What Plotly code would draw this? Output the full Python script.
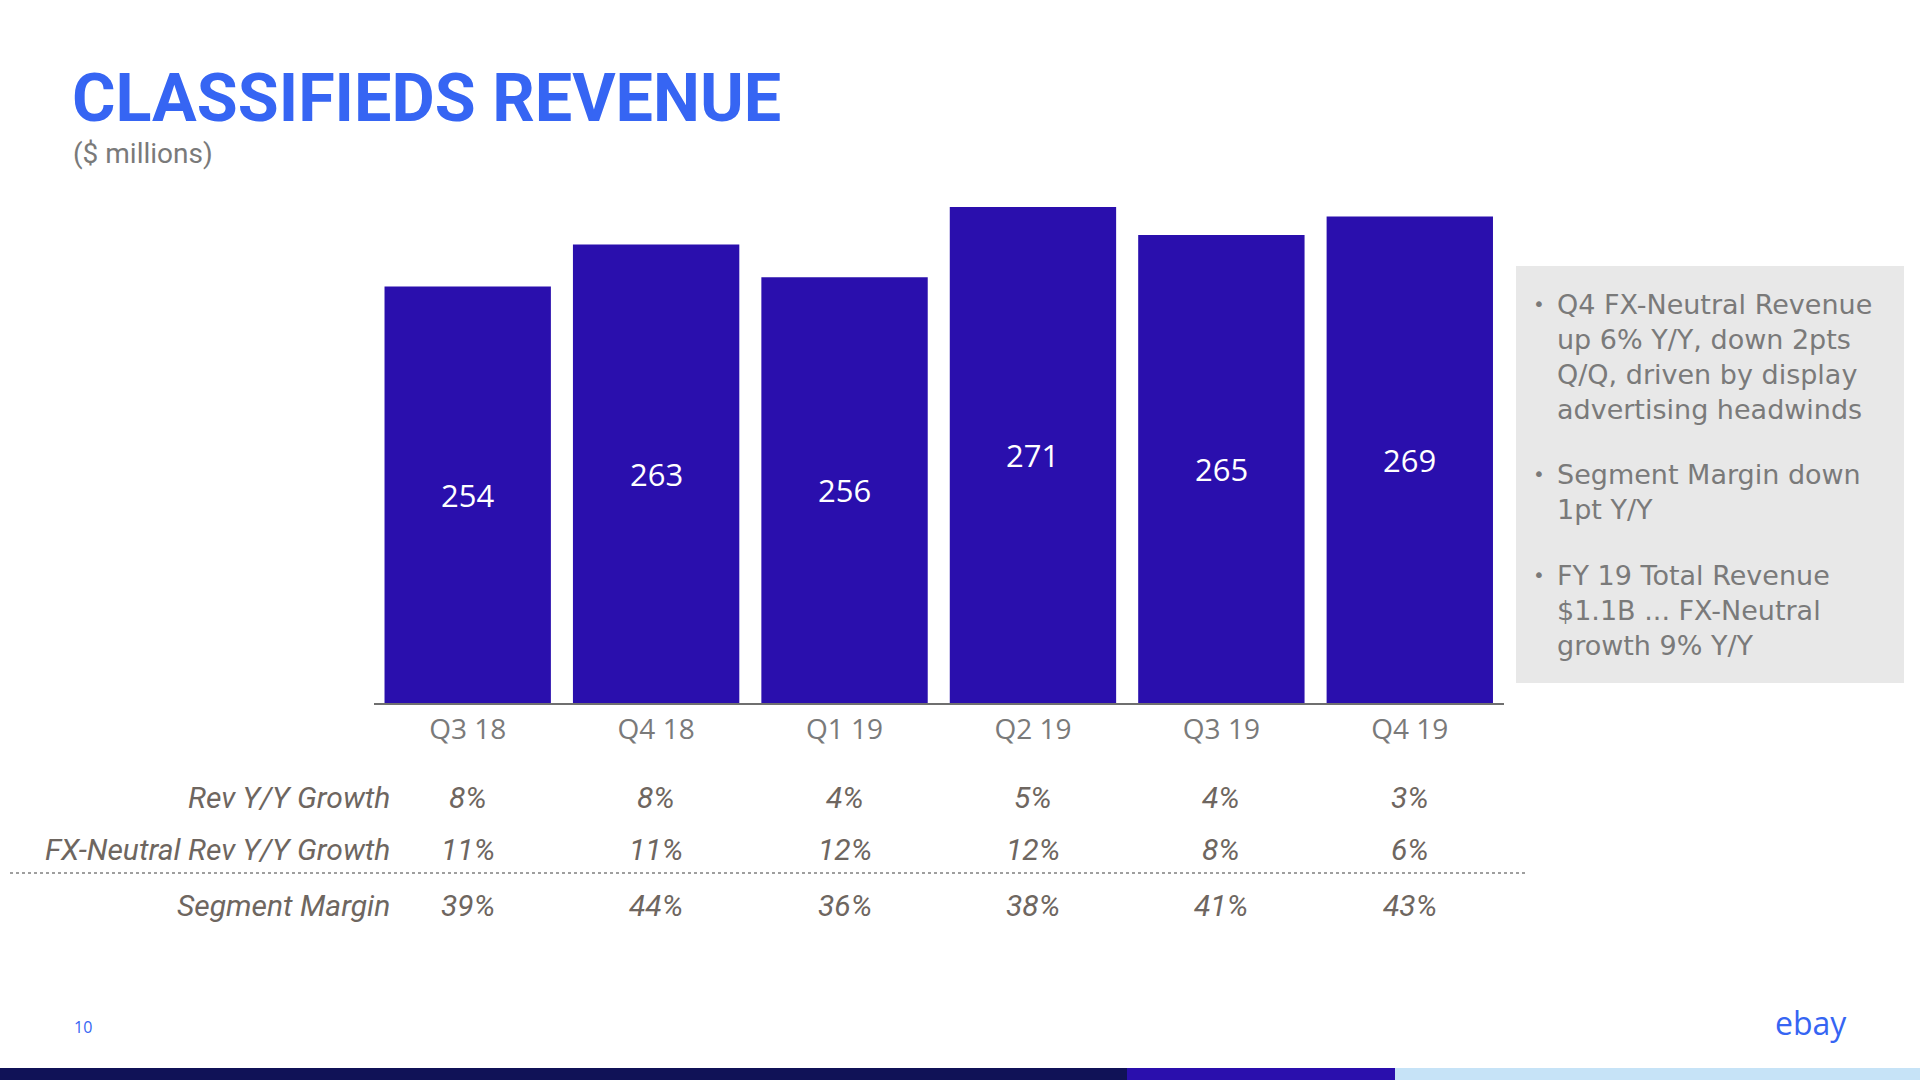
import plotly.graph_objects as go

# ---------------- data ----------------
quarters = ["Q3 18", "Q4 18", "Q1 19", "Q2 19", "Q3 19", "Q4 19"]
revenue = [254, 263, 256, 271, 265, 269]
rev_yy_growth = ["8%", "8%", "4%", "5%", "4%", "3%"]
fxn_rev_yy_growth = ["11%", "11%", "12%", "12%", "8%", "6%"]
segment_margin = ["39%", "44%", "36%", "38%", "41%", "43%"]
row_labels = ["Rev Y/Y Growth", "FX-Neutral Rev Y/Y Growth", "Segment Margin"]
bullets = [
    ["Q4 FX-Neutral Revenue", "up 6% Y/Y, down 2pts", "Q/Q, driven by display", "advertising headwinds"],
    ["Segment Margin down", "1pt Y/Y"],
    ["FY 19 Total Revenue", "$1.1B ... FX-Neutral", "growth 9% Y/Y"],
]

W, H = 1920, 1080
Y_MIN, Y_MAX = 165, 272.5

def px(x):
    return x / W
def py(y):
    return (H - y) / H

BLUE = "#3665f3"
BAR = "#2a0fad"
GRAY = "#7a7a7a"
TABLE = "#6e6660"

fig = go.Figure()
fig.add_trace(go.Bar(
    x=quarters, y=revenue, marker=dict(color=BAR, line=dict(width=0)),
    hoverinfo="skip",
))

ann = []
# value labels centred in the visible part of each bar
for q, v in zip(quarters, revenue):
    ann.append(dict(text=str(v), x=q, y=(Y_MIN + v) / 2, xref="x", yref="y",
                    xanchor="center", yanchor="middle", showarrow=False,
                    font=dict(family="Open Sans", size=31, color="white")))

# title
ann.append(dict(text="<b>CLASSIFIEDS REVENUE</b>", x=px(70), y=py(98), xref="paper", yref="paper",
                xanchor="left", yanchor="middle", showarrow=False,
                font=dict(family="Roboto", size=66.5, color=BLUE)))
ann.append(dict(text="($ millions)", x=px(71), y=py(153), xref="paper", yref="paper",
                xanchor="left", yanchor="middle", showarrow=False,
                font=dict(family="Roboto", size=28, color=GRAY)))

# table
row_y = [797, 850, 905]
rows = [rev_yy_growth, fxn_rev_yy_growth, segment_margin]
for lab, ry, vals in zip(row_labels, row_y, rows):
    ann.append(dict(text=f"<i>{lab}</i>", x=px(392), y=py(ry), xref="paper", yref="paper",
                    xanchor="right", yanchor="middle", showarrow=False,
                    font=dict(family="Roboto", size=30, color=TABLE)))
    for q, v in zip(quarters, vals):
        ann.append(dict(text=f"<i>{v}</i>", x=q, y=py(ry), xref="x", yref="paper",
                        xanchor="center", yanchor="middle", showarrow=False,
                        font=dict(family="Roboto", size=30, color=TABLE)))

# right box bullets (one text block per bullet)
BOX_FS = 27
LINE_H = 1.3 * BOX_FS
block_centres = [357, 491.5, 610]
for lines, yc in zip(bullets, block_centres):
    first = yc - (len(lines) - 1) / 2 * LINE_H
    ann.append(dict(text="•", x=px(1531), y=py(first), xref="paper", yref="paper",
                    xanchor="left", yanchor="middle", showarrow=False,
                    font=dict(family="DejaVu Sans", size=20, color=GRAY)))
    ann.append(dict(text="<br>".join(lines), x=px(1555), y=py(yc), xref="paper", yref="paper",
                    xanchor="left", yanchor="middle", align="left", showarrow=False,
                    font=dict(family="DejaVu Sans", size=BOX_FS, color=GRAY)))

# footer
ann.append(dict(text="10", x=px(72), y=py(1027), xref="paper", yref="paper",
                xanchor="left", yanchor="middle", showarrow=False,
                font=dict(family="Open Sans", size=16, color=BLUE)))
ann.append(dict(text="ebay", x=px(1811), y=py(1022), xref="paper", yref="paper",
                xanchor="center", yanchor="middle", showarrow=False,
                font=dict(family="Open Sans", size=32, color=BLUE)))

shapes = [
    dict(type="rect", xref="paper", yref="paper", x0=px(1516), x1=px(1904), y0=py(683), y1=py(266),
         fillcolor="#e8e8e8", line=dict(width=0), layer="below"),
    dict(type="line", xref="paper", yref="paper", x0=px(10), x1=px(1526), y0=py(873), y1=py(873),
         line=dict(color="#808080", width=1.5, dash="dot")),
    dict(type="rect", xref="paper", yref="paper", x0=0, x1=px(1127), y0=0, y1=py(1068),
         fillcolor="#101257", line=dict(width=0)),
    dict(type="rect", xref="paper", yref="paper", x0=px(1127), x1=px(1395), y0=0, y1=py(1068),
         fillcolor=BAR, line=dict(width=0)),
    dict(type="rect", xref="paper", yref="paper", x0=px(1395), x1=1, y0=0, y1=py(1068),
         fillcolor="#c6e3f7", line=dict(width=0)),
]

fig.update_layout(
    width=W, height=H, margin=dict(l=0, r=0, t=0, b=0),
    paper_bgcolor="white", plot_bgcolor="white",
    showlegend=False, bargap=0.117,
    annotations=ann, shapes=shapes,
    xaxis=dict(domain=[px(373.5), px(1504)], showgrid=False, zeroline=False,
               showline=True, linecolor="#6f6f6f", linewidth=2, ticks="",
               tickfont=dict(family="Open Sans", size=28, color=GRAY), fixedrange=True),
    yaxis=dict(domain=[py(703), py(200)], range=[Y_MIN, Y_MAX], visible=False, fixedrange=True),
)

fig.write_html("out.html", config={"displayModeBar": False},
               post_script="document.body.style.margin='0';document.body.style.overflow='hidden';")
